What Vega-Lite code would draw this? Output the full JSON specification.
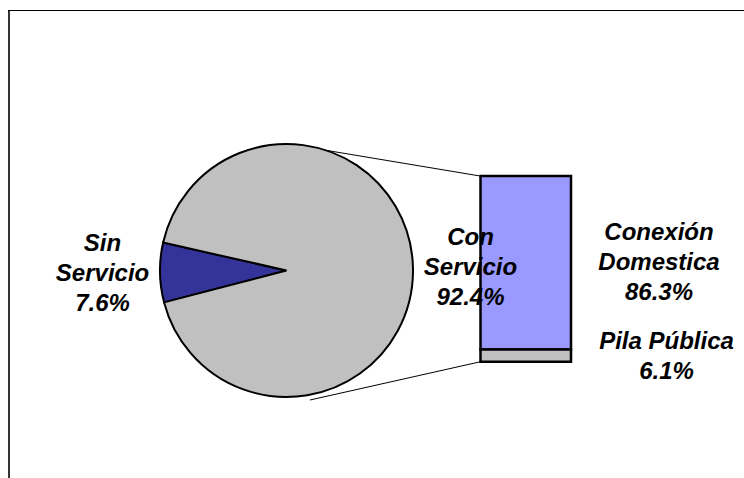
{
  "$schema": "https://vega.github.io/schema/vega-lite/v6.json",
  "width": 744,
  "height": 478,
  "autosize": {"type": "fit", "contains": "padding"},
  "padding": 0,
  "background": "white",
  "config": {
    "view": {"stroke": null},
    "text": {
      "font": "Liberation Sans",
      "fontSize": 24,
      "fontStyle": "italic",
      "fontWeight": "bold",
      "lineHeight": 30,
      "color": "black"
    }
  },
  "datasets": {
    "servicio": [
      {"categoria": "Sin Servicio", "porcentaje": 7.6},
      {"categoria": "Con Servicio", "porcentaje": 92.4}
    ],
    "conServicio": [
      {"categoria": "Conexión Domestica", "porcentaje": 86.3},
      {"categoria": "Pila Pública", "porcentaje": 6.1}
    ]
  },
  "resolve": {"scale": {"color": "independent"}},
  "layer": [
    {
      "data": {"values": [{}]},
      "mark": {"type": "rule", "stroke": "#333333", "strokeWidth": 2},
      "encoding": {"x": {"value": 9}, "y": {"value": 10}, "y2": {"value": 478}}
    },
    {
      "data": {"values": [{}]},
      "mark": {"type": "rule", "stroke": "black", "strokeWidth": 1},
      "encoding": {"y": {"value": 10.5}, "x": {"value": 8}, "x2": {"value": 744}}
    },
    {
      "data": {"values": [{}]},
      "mark": {"type": "rule", "stroke": "black", "strokeWidth": 1},
      "encoding": {
        "y": {"datum": 92.4, "type": "quantitative", "scale": {"domain": [-57.32, 179.88], "nice": false, "zero": false}, "axis": null},
        "y2": {"value": 149.3},
        "x": {"value": 479.5},
        "x2": {"value": 320}
      }
    },
    {
      "data": {"values": [{}]},
      "mark": {"type": "rule", "stroke": "black", "strokeWidth": 1},
      "encoding": {
        "y": {"datum": 0, "type": "quantitative", "scale": {"domain": [-57.32, 179.88], "nice": false, "zero": false}, "axis": null},
        "y2": {"value": 400},
        "x": {"value": 480.5},
        "x2": {"value": 310}
      }
    },
    {
      "data": {"name": "servicio"},
      "mark": {"type": "arc", "x": 286.5, "y": 270.5, "outerRadius": 126.5, "stroke": "black", "strokeWidth": 2},
      "encoding": {
        "theta": {"field": "porcentaje", "type": "quantitative", "stack": true, "scale": {"range": [-1.34804, 4.93515]}},
        "color": {
          "field": "categoria",
          "type": "nominal",
          "scale": {"domain": ["Con Servicio", "Sin Servicio"], "range": ["#C0C0C0", "#333399"]},
          "legend": null
        }
      }
    },
    {
      "data": {"name": "conServicio"},
      "transform": [
        {"stack": "porcentaje", "groupby": [], "sort": [{"field": "categoria", "order": "descending"}], "as": ["base", "tope"]}
      ],
      "mark": {"type": "rect", "stroke": "black", "strokeWidth": 2.5},
      "encoding": {
        "x": {"value": 480.5},
        "x2": {"value": 571},
        "y": {"field": "base", "type": "quantitative", "scale": {"domain": [-57.32, 179.88], "nice": false, "zero": false}, "axis": null},
        "y2": {"field": "tope"},
        "color": {
          "field": "categoria",
          "type": "nominal",
          "scale": {"domain": ["Conexión Domestica", "Pila Pública"], "range": ["#9999FF", "#C0C0C0"]},
          "legend": null
        }
      }
    },
    {
      "data": {"name": "servicio"},
      "transform": [
        {"calculate": "replace(datum.categoria, ' ', '\\n') + '\\n' + format(datum.porcentaje, '.1f') + '%'", "as": "rotulo"}
      ],
      "mark": {"type": "text", "x": 286.5, "y": 270.5, "radius": 184, "dy": -29.5, "lineBreak": "\n", "align": "center", "baseline": "middle"},
      "encoding": {
        "theta": {"field": "porcentaje", "type": "quantitative", "stack": true, "scale": {"range": [-1.34804, 4.93515]}},
        "detail": {"field": "categoria", "type": "nominal"},
        "text": {"field": "rotulo", "type": "nominal"}
      }
    },
    {
      "data": {"name": "conServicio"},
      "transform": [
        {"stack": "porcentaje", "groupby": [], "sort": [{"field": "categoria", "order": "descending"}], "as": ["base", "tope"]},
        {"filter": "datum.categoria == 'Conexión Domestica'"},
        {"calculate": "(datum.base + datum.tope) / 2", "as": "medio"},
        {"calculate": "replace(datum.categoria, ' ', '\\n') + '\\n' + format(datum.porcentaje, '.1f') + '%'", "as": "rotulo"}
      ],
      "mark": {"type": "text", "dy": -29.5, "lineBreak": "\n", "align": "center", "baseline": "middle"},
      "encoding": {
        "x": {"value": 659},
        "y": {"field": "medio", "type": "quantitative", "scale": {"domain": [-57.32, 179.88], "nice": false, "zero": false}, "axis": null},
        "text": {"field": "rotulo", "type": "nominal"}
      }
    },
    {
      "data": {"name": "conServicio"},
      "transform": [
        {"stack": "porcentaje", "groupby": [], "sort": [{"field": "categoria", "order": "descending"}], "as": ["base", "tope"]},
        {"filter": "datum.categoria == 'Pila Pública'"},
        {"calculate": "(datum.base + datum.tope) / 2", "as": "medio"},
        {"calculate": "datum.categoria + '\\n' + format(datum.porcentaje, '.1f') + '%'", "as": "rotulo"}
      ],
      "mark": {"type": "text", "dy": -13.5, "lineBreak": "\n", "align": "center", "baseline": "middle"},
      "encoding": {
        "x": {"value": 666.5},
        "y": {"field": "medio", "type": "quantitative", "scale": {"domain": [-57.32, 179.88], "nice": false, "zero": false}, "axis": null},
        "text": {"field": "rotulo", "type": "nominal"}
      }
    }
  ]
}
